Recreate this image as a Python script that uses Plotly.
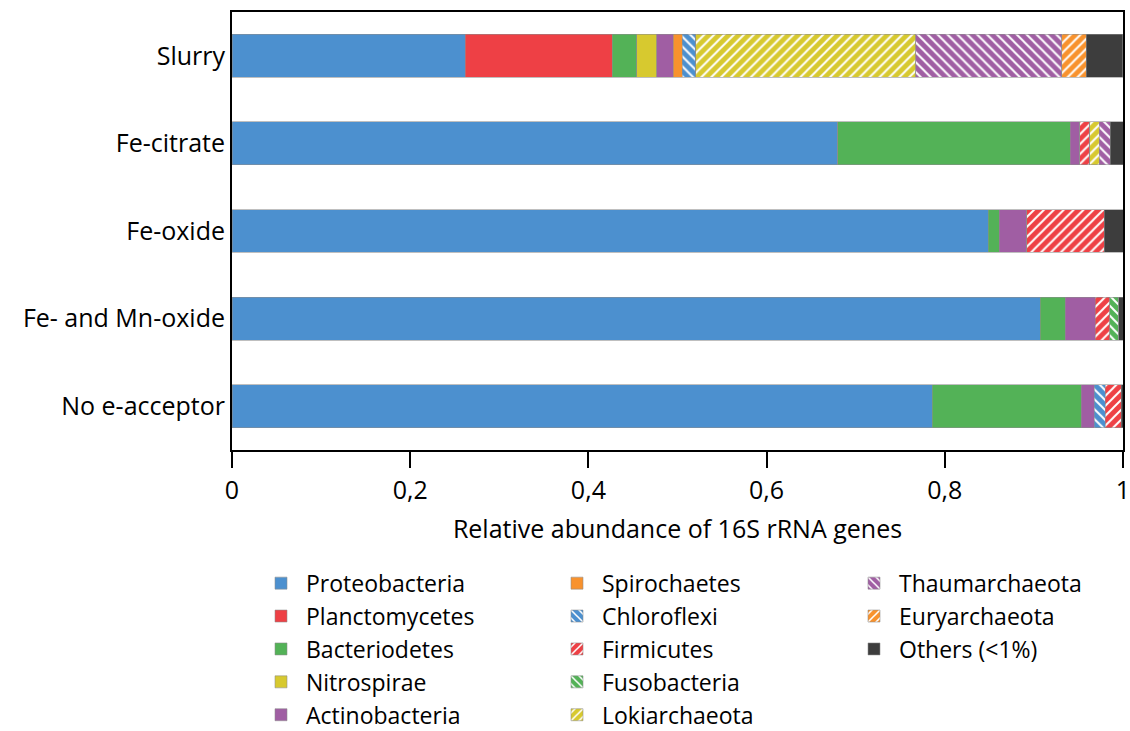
import plotly.graph_objects as go

categories = ["Slurry", "Fe-citrate", "Fe-oxide", "Fe- and Mn-oxide", "No e-acceptor"]

phyla = ["Proteobacteria", "Planctomycetes", "Bacteriodetes", "Nitrospirae", "Actinobacteria",
         "Spirochaetes", "Chloroflexi", "Firmicutes", "Fusobacteria", "Lokiarchaeota",
         "Thaumarchaeota", "Euryarchaeota", "Others (<1%)"]

proteobacteria = [0.2615, 0.680, 0.849, 0.907, 0.786]
planctomycetes = [0.165, 0, 0, 0, 0]
bacteriodetes = [0.028, 0.261, 0.012, 0.028, 0.167]
nitrospirae = [0.022, 0, 0, 0, 0]
actinobacteria = [0.019, 0.0105, 0.031, 0.034, 0.015]
spirochaetes = [0.010, 0, 0, 0, 0]
chloroflexi = [0.015, 0, 0, 0, 0.012]
firmicutes = [0, 0.011, 0.087, 0.016, 0.018]
fusobacteria = [0, 0, 0, 0.010, 0]
lokiarchaeota = [0.247, 0.011, 0, 0, 0]
thaumarchaeota = [0.164, 0.012, 0, 0, 0]
euryarchaeota = [0.027, 0, 0, 0, 0]
others = [0.041, 0.015, 0.021, 0.005, 0.002]

values = [proteobacteria, planctomycetes, bacteriodetes, nitrospirae, actinobacteria,
          spirochaetes, chloroflexi, firmicutes, fusobacteria, lokiarchaeota,
          thaumarchaeota, euryarchaeota, others]

colors = ["#4C90CF", "#EE4045", "#53B257", "#D7C92F", "#A05EA3",
          "#F8922D", "#4C90CF", "#EE4045", "#53B257", "#D7C92F",
          "#A05EA3", "#F8922D", "#3D3D3D"]
patterns = ["", "", "", "", "", "", "\\", "/", "\\", "/", "\\", "/", ""]
legend_ids = ["legend"] * 5 + ["legend2"] * 5 + ["legend3"] * 3

FONT = "Open Sans"
FS = 25
LFS = 23

fig = go.Figure()
for name, vals, col, pat, lg in zip(phyla, values, colors, patterns, legend_ids):
    marker = dict(color=col, line=dict(color="rgba(140,140,140,0.7)", width=0.8))
    if pat:
        marker["pattern"] = dict(shape=pat, fgcolor="white", bgcolor=col,
                                 fillmode="replace", size=7, solidity=0.28)
    fig.add_trace(go.Bar(y=categories, x=vals, name=name, orientation="h",
                         marker=marker, width=0.49, legend=lg))

legend_common = dict(font=dict(family=FONT, size=LFS, color="black"),
                     yanchor="top", xanchor="left", y=-0.255,
                     bgcolor="rgba(0,0,0,0)", tracegroupgap=0,
                     itemwidth=40, orientation="v", traceorder="normal")

fig.update_layout(
    width=1130, height=731,
    margin=dict(l=232, r=7, t=12, b=281, autoexpand=False),
    barmode="stack",
    separators=", ",
    plot_bgcolor="white", paper_bgcolor="white",
    font=dict(family=FONT, size=FS, color="black"),
    xaxis=dict(range=[0, 1], tickvals=[0, 0.2, 0.4, 0.6, 0.8, 1],
               ticks="outside", ticklen=16, tickwidth=1.5, tickcolor="black",
               showline=True, linecolor="black", linewidth=2, mirror=True,
               showgrid=False, zeroline=False, automargin=False,
               ticklabelstandoff=1, ticklabeloverflow="allow",
               title=dict(text="Relative abundance of 16S rRNA genes",
                          font=dict(family=FONT, size=FS), standoff=15),
               tickfont=dict(family=FONT, size=FS)),
    yaxis=dict(range=[4.5, -0.5], showline=True, linecolor="black", linewidth=2,
               mirror=True, showgrid=False, zeroline=False, ticks="",
               automargin=False,
               ticklabelstandoff=0, tickfont=dict(family=FONT, size=FS)),
    legend=dict(legend_common, x=24 / 891),
    legend2=dict(legend_common, x=320 / 891),
    legend3=dict(legend_common, x=617 / 891),
)

fig.write_html("out.html", config={"displayModeBar": False},
               post_script="document.body.style.margin='0px';document.body.style.overflow='hidden';")
